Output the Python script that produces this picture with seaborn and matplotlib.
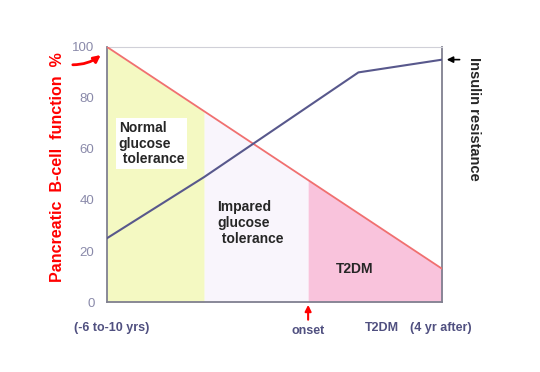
import matplotlib.pyplot as plt
import numpy as np
import pandas as pd
import seaborn as sns

# %% data

beta_x = [0, 10]
beta_y = [100, 13]  # pancreatic B-cell function %
ir_x = [0, 2.9, 7.5, 10]
ir_y = [25, 49, 90, 95]  # insulin resistance
stage_edges = [0, 2.9, 6.0, 10]
stage_names = ["Normal\nglucose\n tolerance", "Impared\nglucose\n tolerance", "T2DM"]
stage_colors = ["#f4f9c2", "#f9f5fc", "#f9c3dc"]
yticks = [0, 20, 40, 60, 80, 100]
xlabels = ["(-6 to-10 yrs)", "onset", "T2DM", "(4 yr after)"]
xlabel_pos = [0.15, 6.0, 8.2, 9.95]

df_beta = pd.DataFrame({"x": beta_x, "y": beta_y})
df_ir = pd.DataFrame({"x": ir_x, "y": ir_y})

# %% plot

sns.set_style("white")
plt.rcParams["font.family"] = ["Liberation Sans", "DejaVu Sans"]
fig = plt.figure(figsize=(5.4, 3.72), dpi=100)
ax = fig.add_axes([0.198, 0.188, 0.621, 0.686])

for i in range(3):
    xs = np.linspace(stage_edges[i], stage_edges[i + 1], 20)
    ys = np.interp(xs, beta_x, beta_y)
    ax.fill_between(xs, 0, ys, color=stage_colors[i], lw=0, zorder=1)

sns.lineplot(data=df_beta, x="x", y="y", color="#f07070", lw=1.3, ax=ax, zorder=3)
sns.lineplot(data=df_ir, x="x", y="y", color="#58588c", lw=1.5, ax=ax, zorder=3)

ax.set_xlim(0, 10)
ax.set_ylim(0, 100)
ax.set_yticks(yticks)
ax.tick_params(axis="y", colors="#8a8aaa", labelsize=9.5, length=0, pad=9)
ax.set_xticks([])
ax.set_xlabel("")
ax.set_ylabel("Pancreatic  B-cell  function  %", color="red", fontweight="bold",
              fontsize=11.5, labelpad=5)
ax.yaxis.label.set_y(0.53)
for s in ["left", "right", "bottom"]:
    ax.spines[s].set_color("#808090")
    ax.spines[s].set_linewidth(1.3)
ax.spines["top"].set_color("#d0d0d8")
ax.spines["top"].set_linewidth(0.8)

ax.text(0.35, 62, stage_names[0], fontsize=10, fontweight="bold", va="center",
        ha="left", zorder=4, linespacing=1.15,
        bbox=dict(facecolor="white", edgecolor="none", pad=2))
ax.text(3.3, 31, stage_names[1], fontsize=10, fontweight="bold", va="center",
        ha="left", zorder=4, linespacing=1.15)
ax.text(7.4, 13, stage_names[2], fontsize=10, fontweight="bold", va="center",
        ha="center", zorder=4)

for lab, xp in zip(xlabels, xlabel_pos):
    yp = -10 if lab != "onset" else -11.5
    ax.text(xp, yp, lab, color="#505080", fontsize=9, fontweight="bold",
            ha="center", va="center", clip_on=False)

# onset arrow
ax.annotate("", xy=(6.0, 0), xytext=(6.0, -8), annotation_clip=False,
            arrowprops=dict(arrowstyle="-|>", color="red", lw=1.5, mutation_scale=9))
# curly arrow to 100
ax.annotate("", xy=(-0.12, 97.5), xytext=(-1.1, 93), annotation_clip=False,
            arrowprops=dict(arrowstyle="-|>", color="red", lw=2, mutation_scale=10,
                            connectionstyle="arc3,rad=0.2"))
# insulin resistance arrow
ax.annotate("", xy=(10.05, 95), xytext=(10.6, 95), annotation_clip=False,
            arrowprops=dict(arrowstyle="-|>", color="black", lw=1.2, mutation_scale=9))
ax.text(10.95, 96, "Insulin resistance", rotation=-90, fontsize=10.5,
        fontweight="bold", ha="center", va="top", clip_on=False)

fig.savefig("out.png", dpi=100, facecolor="w")
